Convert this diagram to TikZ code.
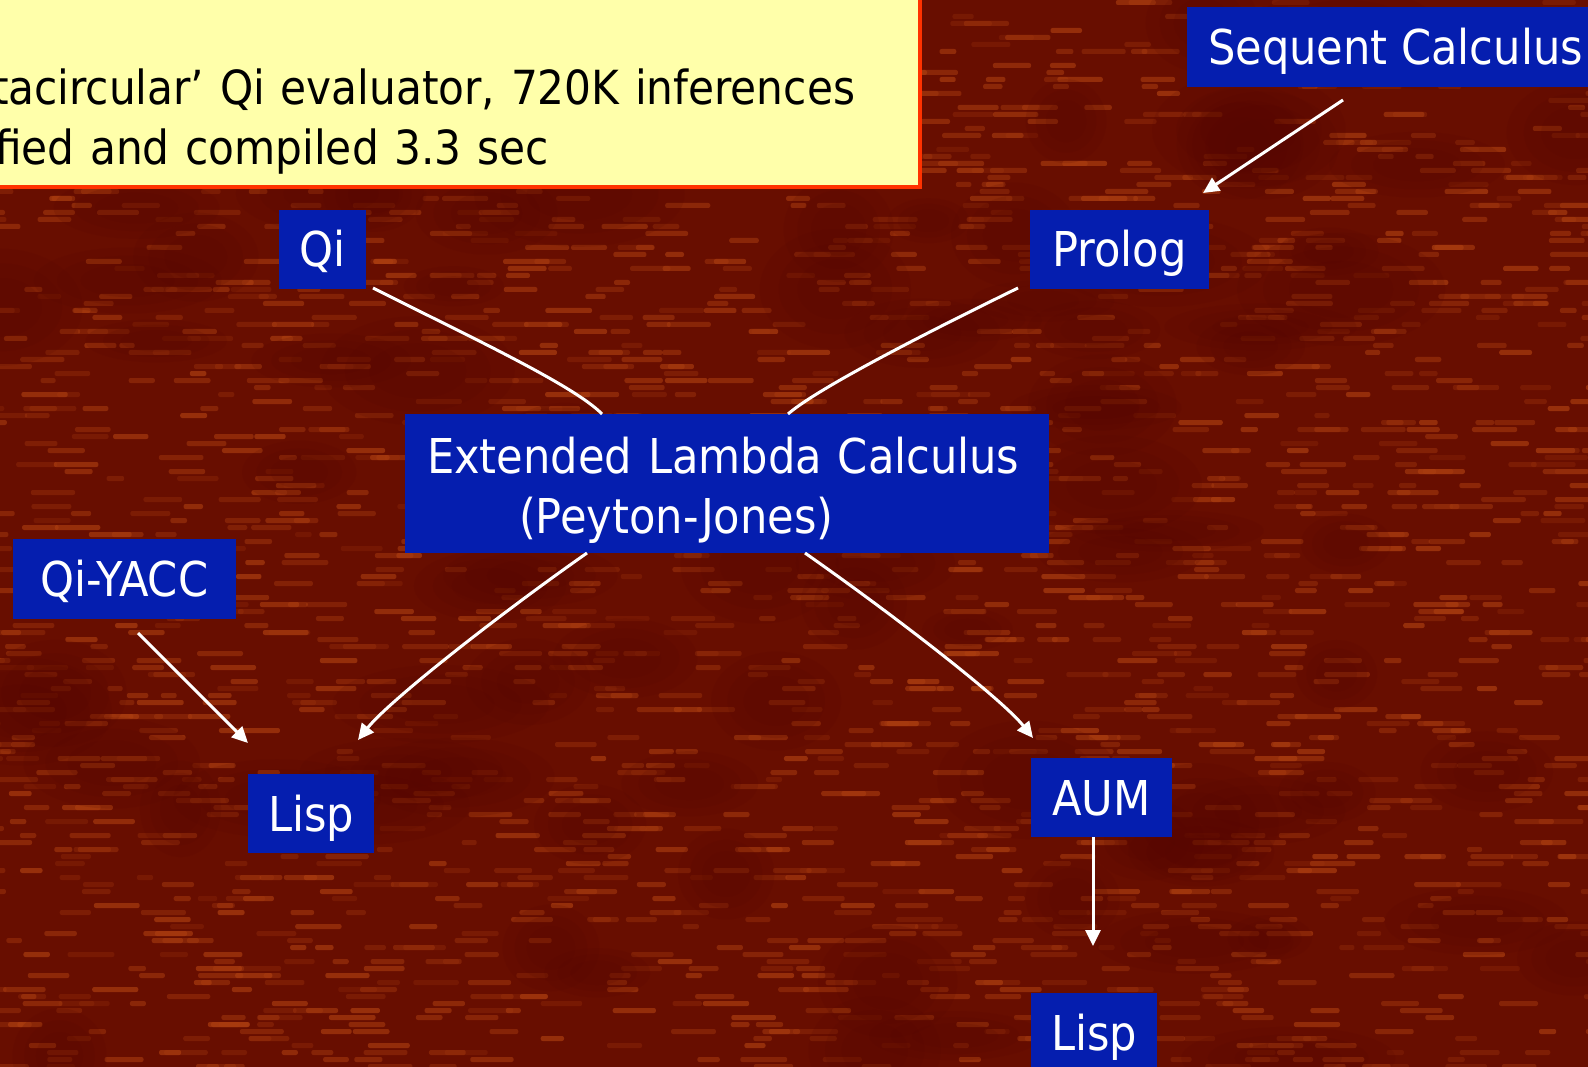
\documentclass[tikz,border=0pt]{standalone}
\usepackage{fontspec}
\setmainfont{DejaVu Sans Condensed}
\usetikzlibrary{arrows.meta,calc}

\definecolor{bgred}{RGB}{104,14,0}
\definecolor{streak}{RGB}{172,62,16}
\definecolor{patch}{RGB}{84,6,0}
\definecolor{boxblue}{RGB}{5,30,175}
\definecolor{noteyellow}{RGB}{255,255,170}
\definecolor{noteborder}{RGB}{255,50,0}

\begin{document}
\begin{tikzpicture}[x=1pt,y=-1pt,
  every node/.style={font=\fontsize{48}{60}\selectfont},
  label box/.style={fill=boxblue, text=white, inner sep=0pt, outer sep=0pt,
                    text height=35pt, text depth=0pt},
  link/.style={draw=white, line width=3pt},
  arrowlink/.style={link, -{Triangle[length=16pt,width=15pt]}},
  note/.style={draw=noteborder, line width=4pt, fill=noteyellow, text=black,
               inner sep=0pt, outer sep=0pt, align=left,
               font=\fontsize{47}{60}\selectfont}]

% page area and textured dark red backdrop
\useasboundingbox (0,0) rectangle (1588,1067);
\fill[bgred] (0,0) rectangle (1588,1067);
\begin{scope}
  \clip (0,0) rectangle (1588,1067);
  \pgfmathsetseed{42}
  \foreach \row in {0,...,152} {
    \foreach \k in {1,...,15} {
      \pgfmathsetmacro{\xs}{rnd*1640-40}
      \pgfmathsetmacro{\ws}{15+rnd*32}
      \pgfmathsetmacro{\op}{0.2+rnd*0.5}
      \fill[streak, fill opacity=\op, rounded corners=2pt] (\xs,\row*7) rectangle ++(\ws,5);
    }
  }
  % soft darker mottling
  \foreach \k in {1,...,90} {
    \pgfmathsetmacro{\px}{rnd*1588}
    \pgfmathsetmacro{\py}{rnd*1067}
    \pgfmathsetmacro{\rx}{40+rnd*70}
    \pgfmathsetmacro{\ry}{20+rnd*40}
    \foreach \s in {1.0,0.75,0.5} {
      \fill[patch, fill opacity=0.14] (\px,\py) ellipse [x radius=\s*\rx, y radius=\s*\ry];
    }
  }
\end{scope}

% yellow note, running off the top left corner
\node[note, anchor=south east, text width=928pt] (note) at (920,187)
  {\rule{0pt}{115pt}tacircular’ Qi evaluator, 720K inferences\\
   \hspace*{3pt}fied and compiled 3.3 sec\rule[-22pt]{0pt}{22pt}};

% blue label boxes
\node[label box, anchor=north west, minimum height=80pt, inner xsep=21pt] (seq) at (1187,7) {Sequent Calculus};
\node[label box, minimum width=87pt,  minimum height=79pt] (qi)     at (322.5,249.5) {Qi};
\node[label box, minimum width=179pt, minimum height=79pt] (prolog) at (1119.5,249.5) {Prolog};
\node[label box, anchor=north west, inner xsep=22pt, inner ysep=0pt, text height=, text depth=,
      text width=600pt, align=left] (elc) at (405,414)
  {\rule{0pt}{59pt}Extended Lambda Calculus\\
   \hspace*{92pt}(Peyton-Jones)\rule[-20pt]{0pt}{20pt}};
\node[label box, minimum width=223pt, minimum height=80pt] (yacc) at (124.5,579) {Qi-YACC};
\node[label box, minimum width=126pt, minimum height=79pt] (lispa) at (311,813.5) {Lisp};
\node[label box, minimum width=141pt, minimum height=79pt] (aum) at (1101.5,797.5) {AUM};
\node[label box, minimum width=126pt, minimum height=80pt] (lispb) at (1094,1033) {Lisp};

% connectors
\draw[arrowlink] ($(seq.south west)+(156,13)$) -- ($(prolog.north east)+(-6,-17)$);
\draw[link] ($(qi.south east)+(7,-1)$) .. controls +(89,45) and +(-28,-29) .. ($(elc.north west)+(197,0)$);
\draw[link] ($(prolog.south west)+(-12,-1)$) .. controls +(-90,44) and +(30,-26) .. ($(elc.north west)+(383,0)$);
\draw[arrowlink] ($(elc.south west)+(182,0)$) .. controls +(-90,63) and +(31,-39) .. ($(lispa.north west)+(110,-34)$);
\draw[arrowlink] ($(elc.south west)+(400,0)$) .. controls +(90,63) and +(-31,-39) .. ($(aum.north west)+(2,-20)$);
\draw[arrowlink] ($(yacc.south west)+(125,14)$) -- ($(lispa.north west)+(0,-31)$);
\draw[arrowlink] ($(aum.south west)+(62,0)$) -- ($(lispb.north west)+(62,-47)$);
\end{tikzpicture}
\end{document}
